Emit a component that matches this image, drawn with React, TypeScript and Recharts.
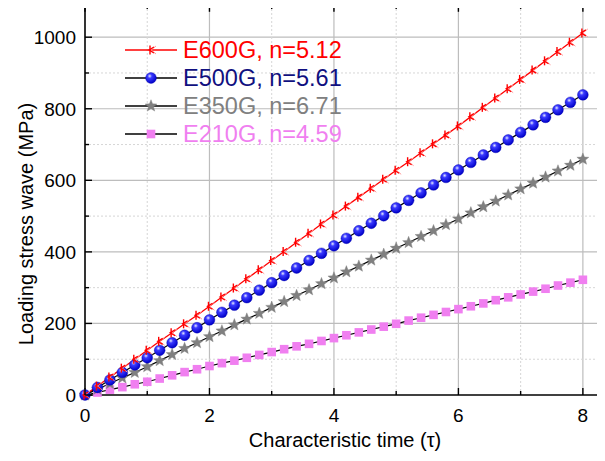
import React from "react";
import { LineChart, Line, XAxis, YAxis, CartesianGrid, ReferenceLine } from "recharts";

const TIME = [0, 0.2, 0.4, 0.6, 0.8, 1.0, 1.2, 1.4, 1.6, 1.8, 2.0, 2.2, 2.4, 2.6, 2.8, 3.0, 3.2, 3.4, 3.6, 3.8, 4.0,
  4.2, 4.4, 4.6, 4.8, 5.0, 5.2, 5.4, 5.6, 5.8, 6.0, 6.2, 6.4, 6.6, 6.8, 7.0, 7.2, 7.4, 7.6, 7.8, 8.0];

const E600G = [0, 25, 50, 75, 100, 125, 150, 174, 199, 223, 248, 274, 299, 325, 350, 376, 401, 427, 452, 478, 503,
  528, 553, 578, 603, 628, 652, 677, 702, 727, 752, 778, 804, 830, 856, 882, 908, 934, 960, 986, 1012];
const E500G = [0, 21, 42, 63, 84, 104, 125, 146, 167, 188, 210, 231, 251, 272, 293, 314, 334, 355, 376, 396, 417,
  438, 459, 480, 501, 523, 544, 565, 587, 608, 629, 650, 671, 692, 713, 734, 755, 776, 797, 818, 839];
const E350G = [0, 16, 32, 48, 63, 79, 96, 113, 130, 146, 163, 179, 196, 212, 228, 245, 261, 278, 294, 311, 327,
  344, 360, 377, 393, 410, 426, 443, 459, 476, 492, 509, 526, 542, 559, 576, 592, 609, 626, 642, 659];
const E210G = [0, 7, 15, 22, 30, 37, 46, 55, 64, 72, 81, 89, 96, 104, 112, 120, 128, 136, 143, 151, 159,
  167, 175, 183, 191, 199, 208, 216, 224, 232, 240, 248, 256, 265, 273, 281, 289, 297, 306, 314, 322];

const SERIES_LABELS = ["E600G, n=5.12", "E500G, n=5.61", "E350G, n=6.71", "E210G, n=4.59"];
const X_TICKS = [0, 1, 2, 3, 4, 5, 6, 7, 8];
const X_MAJOR = [2, 4, 6, 8];
const X_MINOR = [1, 3, 5, 7];
const Y_TICKS = [0, 100, 200, 300, 400, 500, 600, 700, 800, 900, 1000];
const Y_MAJOR = [200, 400, 600, 800, 1000];
const Y_MINOR = [100, 300, 500, 700, 900];
const X_TITLE = "Characteristic time (\u03c4)";
const Y_TITLE = "Loading stress wave  (MPa)";

const Y_MAX = 1090;
const X_MAX = 8.5;
const FONT = "'Liberation Sans', Arial, sans-serif";

const data = TIME.map((t, i) => ({ t, a: E600G[i], b: E500G[i], c: E350G[i], d: E210G[i] }));

const RED = "#ff0000";
const GRAY = "#808080";
const VIOLET = "#f07ff0";

function RedMark({ cx, cy }: any) {
  if (cx == null || cy == null) return null;
  return (
    <g fill="none">
      <polyline points={`${cx + 5},${cy - 4} ${cx},${cy} ${cx + 5},${cy + 4}`} stroke="#ff9a9a" strokeWidth={1} />
      <line x1={cx - 1} y1={cy - 4.5} x2={cx - 1} y2={cy + 4.5} stroke={RED} strokeWidth={1.4} />
      <polyline points={`${cx + 3},${cy - 3} ${cx - 2},${cy} ${cx + 3},${cy + 3}`} stroke={RED} strokeWidth={1.3} />
    </g>
  );
}

function BlueMark({ cx, cy, gid }: any) {
  if (cx == null || cy == null) return null;
  return <circle cx={cx} cy={cy} r={5.4} fill={`url(#${gid || "ballGrad"})`} stroke="#0000b0" strokeWidth={0.4} />;
}

function starPath(cx: number, cy: number, R: number, r: number) {
  const pts: string[] = [];
  for (let i = 0; i < 10; i++) {
    const ang = -Math.PI / 2 + (i * Math.PI) / 5;
    const rad = i % 2 === 0 ? R : r;
    pts.push(`${(cx + rad * Math.cos(ang)).toFixed(2)},${(cy + rad * Math.sin(ang)).toFixed(2)}`);
  }
  return "M" + pts.join("L") + "Z";
}

function GrayMark({ cx, cy }: any) {
  if (cx == null || cy == null) return null;
  return <path d={starPath(cx, cy, 6.3, 2.7)} fill={GRAY} stroke={GRAY} strokeWidth={0.4} />;
}

function VioletMark({ cx, cy }: any) {
  if (cx == null || cy == null) return null;
  return <rect x={cx - 4.3} y={cy - 4.3} width={8.6} height={8.6} fill={VIOLET} />;
}

function XTick({ x, y, payload }: any) {
  const v = payload.value;
  const major = v % 2 === 0;
  return (
    <g>
      <line x1={x} x2={x} y1={y} y2={y - (major ? 7 : 4)} stroke="#000" strokeWidth={1.4} />
      {major && (
        <text x={x} y={y + 27} textAnchor="middle" fontSize={19} fontFamily={FONT} fill="#000">
          {v}
        </text>
      )}
    </g>
  );
}

function YTick({ x, y, payload }: any) {
  const v = payload.value;
  const major = v % 200 === 0;
  return (
    <g>
      <line x1={x} x2={x + (major ? 7 : 4)} y1={y} y2={y} stroke="#000" strokeWidth={1.4} />
      {major && (
        <text x={x - 9} y={y} dy="0.36em" textAnchor="end" fontSize={19} fontFamily={FONT} fill="#000">
          {v}
        </text>
      )}
    </g>
  );
}

function XTitle() {
  return (
    <text x={345} y={447} textAnchor="middle" fontSize={20} fontFamily={FONT} fill="#000">
      {X_TITLE}
    </text>
  );
}

function YTitle() {
  return (
    <text x={33} y={224} transform="rotate(-90, 33, 224)" textAnchor="middle" fontSize={20} fontFamily={FONT} fill="#000">
      {Y_TITLE}
    </text>
  );
}

const LEGEND_ROWS = [
  { label: SERIES_LABELS[0], color: RED, line: RED, Mark: RedMark },
  { label: SERIES_LABELS[1], color: "#101080", line: "#000", Mark: BlueMark },
  { label: SERIES_LABELS[2], color: GRAY, line: "#000", Mark: GrayMark },
  { label: SERIES_LABELS[3], color: VIOLET, line: "#000", Mark: VioletMark },
];

function Grad({ id }: { id: string }) {
  return (
    <radialGradient id={id} cx="38%" cy="32%" r="68%">
      <stop offset="0%" stopColor="#e8ecff" />
      <stop offset="30%" stopColor="#3a3aff" />
      <stop offset="100%" stopColor="#0000c8" />
    </radialGradient>
  );
}

export default function App() {
  return (
    <div style={{ position: "relative", margin: "-8px 0 0 -8px", width: 605, height: 461, overflow: "hidden" }}>
      <LineChart
        width={640}
        height={461}
        data={data}
        margin={{ top: 5, right: 26, bottom: 0, left: 5 }}
      >
        <defs>
          <Grad id="ballGrad" />
        </defs>
        <CartesianGrid stroke="#bdbdbd" strokeWidth={1.2} horizontalValues={Y_MAJOR} verticalValues={X_MAJOR} />
        <CartesianGrid stroke="#d6d6d6" strokeDasharray="2 2" horizontalValues={Y_MINOR} verticalValues={X_MINOR} />
        <XAxis
          dataKey="t"
          type="number"
          domain={[0, X_MAX]}
          ticks={X_TICKS}
          interval={0}
          tickSize={0}
          tickMargin={0}
          tick={<XTick />}
          axisLine={{ stroke: "#000", strokeWidth: 1.6 }}
          height={66}
          label={{ content: () => <XTitle /> }}
        />
        <YAxis
          type="number"
          domain={[0, Y_MAX]}
          ticks={Y_TICKS}
          interval={0}
          tickSize={0}
          tickMargin={0}
          tick={<YTick />}
          axisLine={{ stroke: "#000", strokeWidth: 1.6 }}
          width={80}
          label={{ content: () => <YTitle /> }}
        />
        <ReferenceLine y={Y_MAX} stroke="#000" strokeWidth={1.6} />
        {X_TICKS.map((v) => (
          <ReferenceLine
            key={"tt" + v}
            segment={[{ x: v, y: Y_MAX }, { x: v, y: Y_MAX - (v % 2 === 0 ? 19 : 11) }]}
            stroke="#000"
            strokeWidth={1.4}
          />
        ))}
        <Line dataKey="d" stroke="#000" strokeWidth={1.2} dot={<VioletMark />} isAnimationActive={false} />
        <Line dataKey="c" stroke="#000" strokeWidth={1.2} dot={<GrayMark />} isAnimationActive={false} />
        <Line dataKey="b" stroke="#000" strokeWidth={1.2} dot={<BlueMark />} isAnimationActive={false} />
        <Line dataKey="a" stroke={RED} strokeWidth={1.3} dot={<RedMark />} isAnimationActive={false} />
      </LineChart>
      <div style={{ position: "absolute", left: 0, top: 0, width: 605, height: 461, pointerEvents: "none" }}>
        {LEGEND_ROWS.map((row, i) => {
          const cy = 49.5 + i * 28;
          const M = row.Mark;
          return (
            <div key={row.label} style={{ position: "absolute", left: 124, top: cy - 14, height: 28, display: "flex", alignItems: "center" }}>
              <svg width={54} height={28} style={{ display: "block" }}>
                <defs>
                  <Grad id={"ballGradL" + i} />
                </defs>
                <line x1={1} x2={53} y1={14} y2={14} stroke={row.line} strokeWidth={1.3} />
                <M cx={27} cy={14} gid={"ballGradL" + i} />
              </svg>
              <span style={{ marginLeft: 5, fontFamily: FONT, fontSize: 23.5, color: row.color, whiteSpace: "nowrap", lineHeight: "28px" }}>
                {row.label}
              </span>
            </div>
          );
        })}
      </div>
    </div>
  );
}
